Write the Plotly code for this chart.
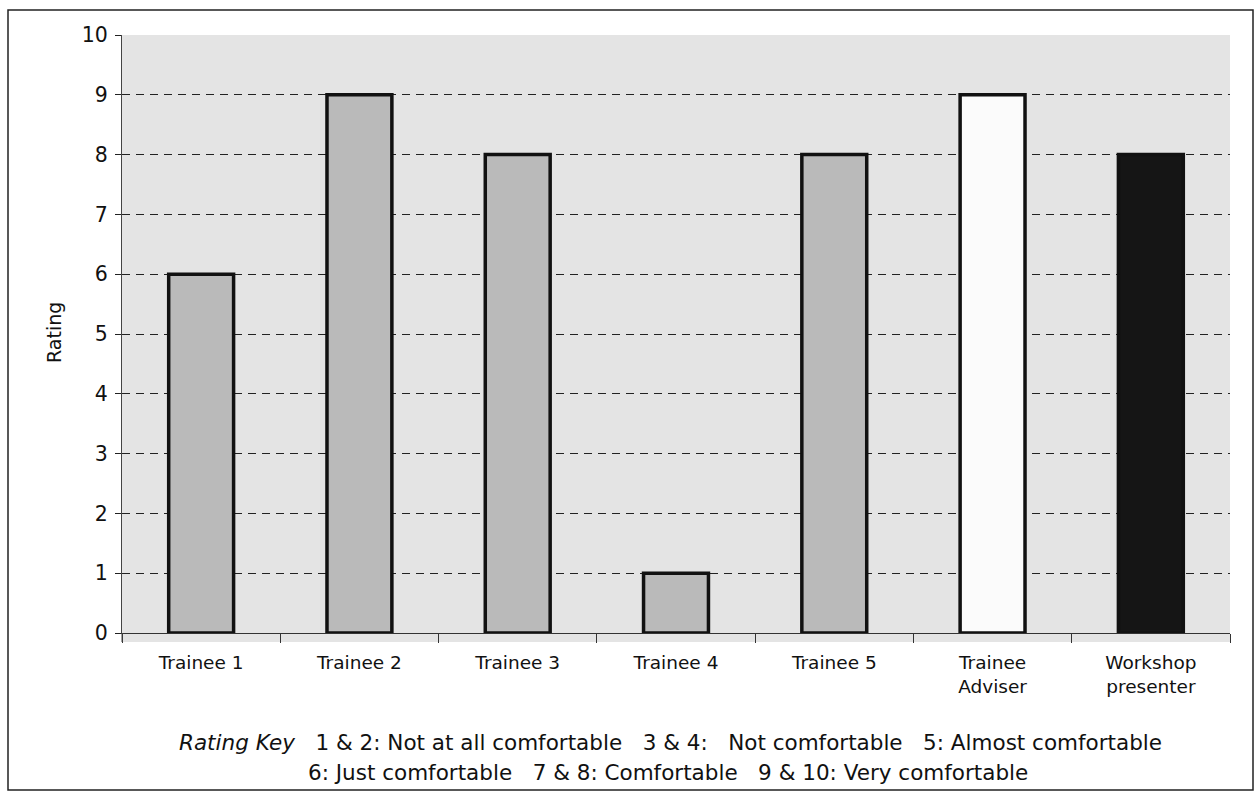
import plotly.graph_objects as go

# Comfort ratings given by each participant
categories = ["Trainee 1", "Trainee 2", "Trainee 3", "Trainee 4", "Trainee 5",
              "Trainee<br>Adviser", "Workshop<br>presenter"]
ratings = [6, 9, 8, 1, 8, 9, 8]
bar_fills = ["#bababa", "#bababa", "#bababa", "#bababa", "#bababa", "#fbfbfb", "#151515"]

y_ticks = list(range(0, 11))

NB = "\u00a0"
key_line1 = ("<i>Rating Key</i>" + NB * 3 + "1 & 2: Not at all comfortable" + NB * 3 +
             "3 & 4:" + NB * 3 + "Not comfortable" + NB * 3 + "5: Almost comfortable")
key_line2 = ("6: Just comfortable" + NB * 3 + "7 & 8: Comfortable" + NB * 3 +
             "9 & 10: Very comfortable")

FONT = "DejaVu Sans, Liberation Sans, Arial, sans-serif"
PLOT_BG = "#e4e4e4"
INK = "#111111"

W, H = 1258, 799
m_l, m_r, m_t, m_b = 122, 28, 35, 166
plot_w = W - m_l - m_r
plot_h = H - m_t - m_b


def px_x(px):
    return (px - m_l) / plot_w


def px_y(py):
    return (H - m_b - py) / plot_h


fig = go.Figure()
fig.add_trace(go.Bar(
    x=categories,
    y=ratings,
    width=0.41,
    marker=dict(color=bar_fills, line=dict(color=INK, width=3.5)),
    hoverinfo="x+y",
))

fig.update_layout(
    width=W,
    height=H,
    margin=dict(l=m_l, r=m_r, t=m_t, b=m_b, pad=0),
    paper_bgcolor="white",
    plot_bgcolor=PLOT_BG,
    showlegend=False,
    font=dict(family=FONT, size=19, color=INK),
    xaxis=dict(
        type="category",
        tickson="boundaries",
        ticks="outside",
        ticklen=9,
        tickcolor="#333333",
        tickwidth=1,
        showline=True,
        linecolor="#333333",
        linewidth=1.2,
        showgrid=False,
        tickfont=dict(family=FONT, size=18.5, color=INK),
        ticklabelstandoff=13,
    ),
    yaxis=dict(
        range=[0, 10],
        tickvals=y_ticks,
        ticks="outside",
        ticklen=6,
        tickcolor="#222222",
        showline=True,
        linecolor="#444444",
        linewidth=1,
        showgrid=True,
        gridcolor="#222222",
        gridwidth=1,
        griddash="8px,6px",
        zeroline=False,
        tickfont=dict(family=FONT, size=20.5, color=INK),
        ticklabelstandoff=3,
    ),
    shapes=[
        # background strip continuing just below the zero line
        dict(type="rect", xref="paper", yref="paper",
             x0=0, x1=1, y0=px_y(642), y1=0,
             fillcolor=PLOT_BG, line=dict(width=0), layer="below"),
        # left axis line carried down over that strip
        dict(type="line", xref="paper", yref="paper",
             x0=0, x1=0, y0=px_y(642), y1=0,
             line=dict(color="#444444", width=1)),
        # outer frame around the whole figure
        dict(type="rect", xref="paper", yref="paper",
             x0=px_x(8), x1=px_x(1253), y0=px_y(790), y1=px_y(10),
             line=dict(color="#222222", width=1.5), fillcolor="rgba(0,0,0,0)"),
    ],
    annotations=[
        dict(text="Rating", textangle=-90, xref="paper", yref="paper",
             x=px_x(54), y=px_y(333), xanchor="center", yanchor="middle",
             showarrow=False, font=dict(family=FONT, size=19, color=INK)),
        dict(text=key_line1, xref="paper", yref="paper",
             x=px_x(670), y=px_y(742), xanchor="center", yanchor="middle",
             showarrow=False, font=dict(family=FONT, size=21.5, color=INK)),
        dict(text=key_line2, xref="paper", yref="paper",
             x=px_x(668), y=px_y(772), xanchor="center", yanchor="middle",
             showarrow=False, font=dict(family=FONT, size=21.5, color=INK)),
    ],
)

fig.write_html("out.html", config={"displayModeBar": False})
